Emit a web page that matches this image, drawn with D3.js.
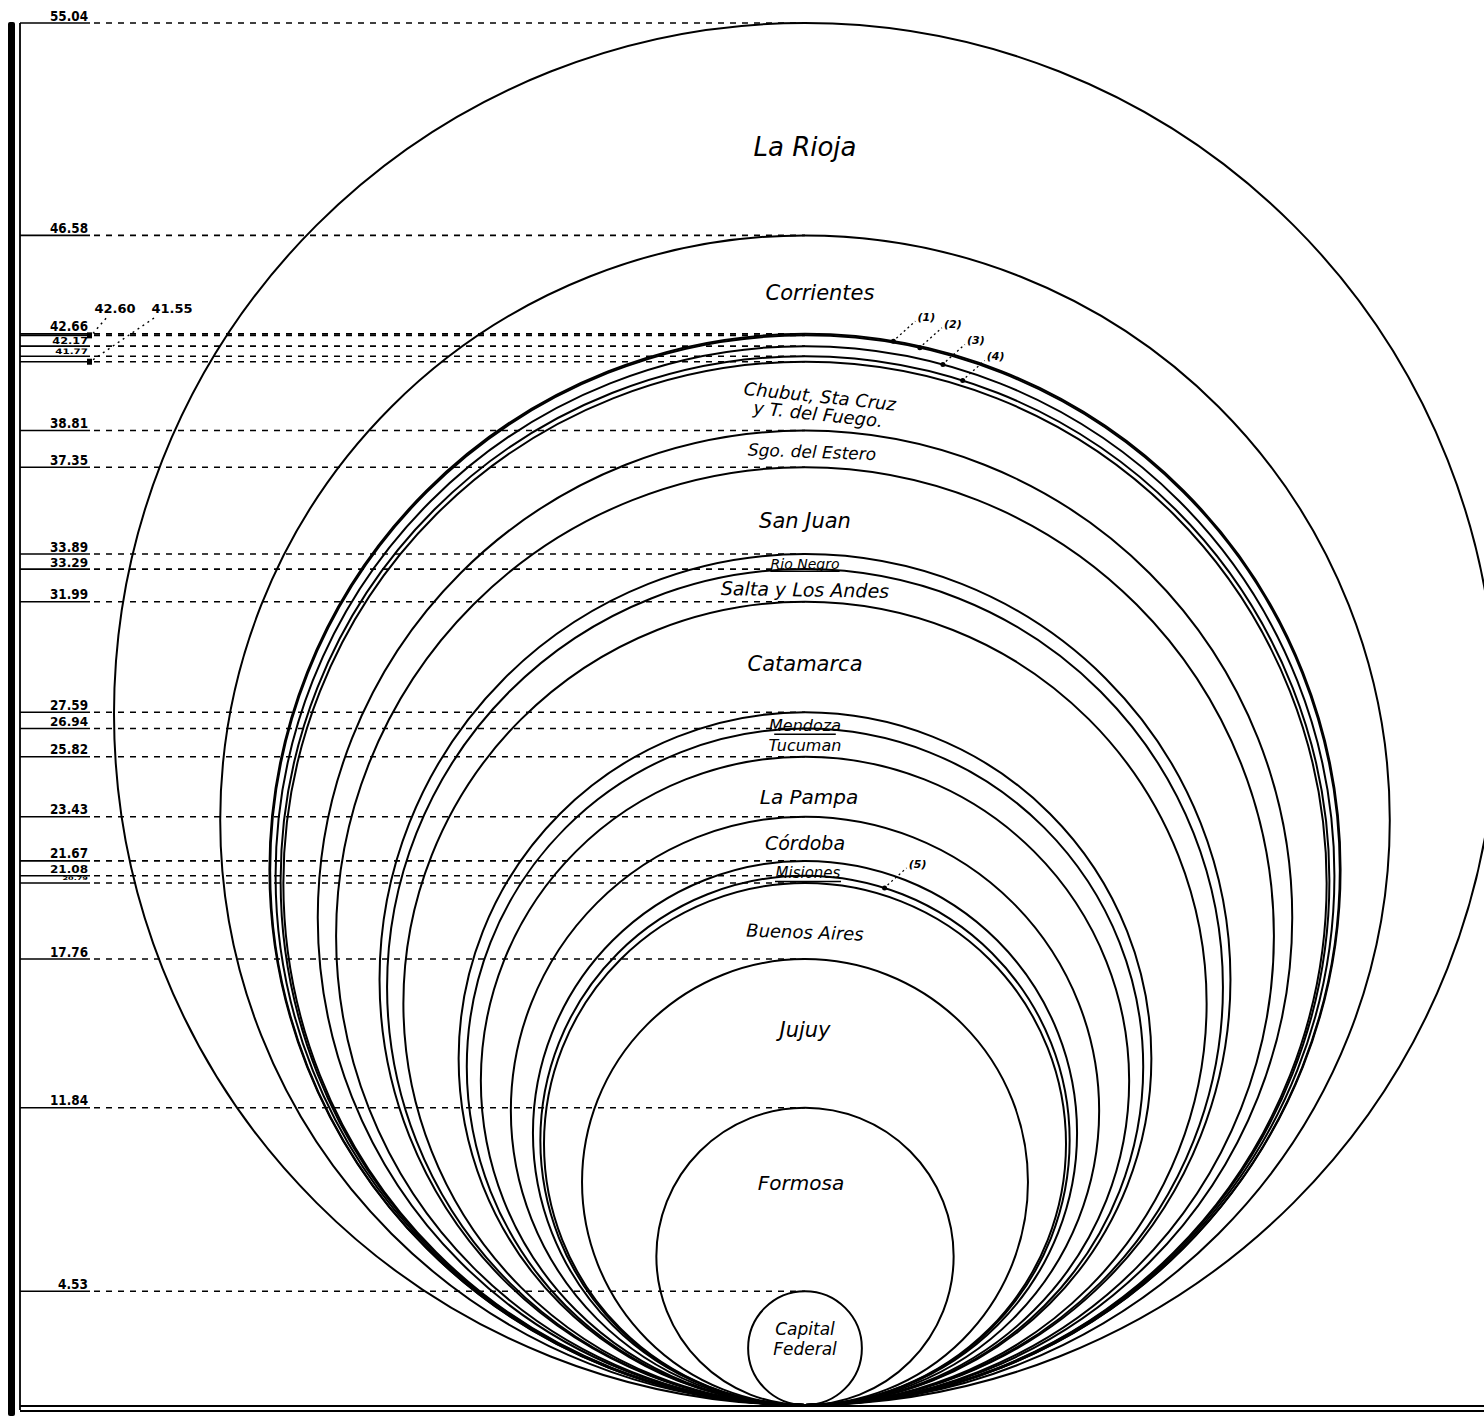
<!DOCTYPE html>
<html>
<head>
<meta charset="utf-8">
<script src="https://cdn.jsdelivr.net/npm/d3@7"></script>
<style>
  html, body { margin: 0; padding: 0; background: #fff; }
  svg { display: block; }
</style>
</head>
<body>
<svg id="chart" width="1484" height="1416"></svg>
<script>
// ---------------- DATA ----------------
// circle values (diameter = value on vertical scale), outer to inner
const circleValues = [55.04, 46.58, 42.66, 42.60, 42.17, 41.77, 41.55, 38.81, 37.35, 33.89, 33.29,
                      31.99, 27.59, 26.94, 25.82, 23.43, 21.67, 21.08, 20.79, 17.76, 11.84, 4.53];
// name written in the ring just inside each circle (null = unnamed, referenced by footnote)
const circleNames = ["La Rioja", "Corrientes", null, null, null, null,
                     "Chubut, Sta Cruz|y T. del Fuego.", "Sgo. del Estero", "San Juan", "Rio Negro",
                     "Salta y Los Andes", "Catamarca", "Mendoza", "Tucuman", "La Pampa", "Córdoba",
                     "Misiones", null, "Buenos Aires", "Jujuy", "Formosa", "Capital|Federal"];
// tick labels written on the left scale (null = annotated separately)
const tickLabels = ["55.04", "46.58", "42.66", null, "42.17", "41.77", null, "38.81", "37.35", "33.89", "33.29",
                    "31.99", "27.59", "26.94", "25.82", "23.43", "21.67", "21.08", "20.79", "17.76", "11.84", "4.53"];
// values annotated with leader lines near the scale
const sideNotes = ["42.60", "41.55"];
const sideVals = [42.60, 41.55];
// footnote marks on unnamed circles
const footnoteMarks = ["(1)", "(2)", "(3)", "(4)", "(5)"];
const footnoteValues = [42.66, 42.60, 42.17, 41.77, 21.08];

// ---------------- LAYOUT / STYLE ----------------
const W = 1484, H = 1416;
const base = 1405, topY = 23, cx = 805;
const y = d3.scaleLinear().domain([0, 55.04]).range([base, topY]);
const axisX = 20, solidEnd = 90;

const labelStyle = {
  "La Rioja": {size: 26, dy: 18},
  "Corrientes": {size: 21, dy: 8, dx: 15},
  "Chubut, Sta Cruz|y T. del Fuego.": {size: 18, dy: 9, dx: 14, rot: 6, lh: 18},
  "Sgo. del Estero": {size: 17, dy: 3, dx: 7, rot: 2},
  "San Juan": {size: 21, dy: 10},
  "Rio Negro": {size: 14, dy: 2, ul: true},
  "Salta y Los Andes": {size: 19, dy: 4, rot: 1},
  "Catamarca": {size: 21, dy: 7},
  "Mendoza": {size: 16, dy: 5, ul: true},
  "Tucuman": {size: 16, dy: 3},
  "La Pampa": {size: 20, dy: 10, dx: 4},
  "Córdoba": {size: 19, dy: 4},
  "Misiones": {size: 15, dy: 5, dx: 3, ul: true},
  "Buenos Aires": {size: 18, dy: 11, rot: 2},
  "Jujuy": {size: 21, dy: -3},
  "Formosa": {size: 20, dy: -16, dx: -4},
  "Capital|Federal": {size: 17, dy: -9, lh: 20}
};
const fnAngles = [9.5, 12.4, 15.1, 17.5, 17.5];

const svg = d3.select("#chart");
svg.append("rect").attr("width", W).attr("height", H).attr("fill", "#fff");

// frame
svg.append("rect").attr("x", 8).attr("y", topY - 1).attr("width", 7).attr("height", H - topY + 1)
  .attr("rx", 2).attr("fill", "#000");
svg.append("line").attr("x1", axisX).attr("x2", axisX).attr("y1", topY).attr("y2", base + 5)
  .attr("stroke", "#000").attr("stroke-width", 1.8);
svg.append("line").attr("x1", axisX).attr("x2", W).attr("y1", base + 1).attr("y2", base + 1)
  .attr("stroke", "#000").attr("stroke-width", 1.8);
svg.append("line").attr("x1", axisX).attr("x2", W).attr("y1", base + 6).attr("y2", base + 6)
  .attr("stroke", "#000").attr("stroke-width", 1.8);

// scale lines: solid part + dashed leader to the circle top
const ticks = svg.append("g");
let lastLabelY = -Infinity, lastFs = 13.5;
circleValues.forEach((v, i) => {
  const yy = y(v);
  ticks.append("line").attr("x1", axisX).attr("x2", solidEnd).attr("y1", yy).attr("y2", yy)
    .attr("stroke", "#000").attr("stroke-width", 1.6);
  ticks.append("line").attr("x1", solidEnd + 4).attr("x2", cx).attr("y1", yy).attr("y2", yy)
    .attr("stroke", "#000").attr("stroke-width", 1.6).attr("stroke-dasharray", "6,6");
  if (tickLabels[i]) {
    const gap = yy - lastLabelY;
    const fs = Math.max(5, Math.min(13.5, (gap - 0.26 * lastFs - 0.6) / 0.95));
    const len = tickLabels[i].length > 4 ? 38 : 30;
    ticks.append("text").attr("x", solidEnd - 2).attr("y", yy - 2.5)
      .attr("text-anchor", "end")
      .attr("font-family", "DejaVu Sans, sans-serif").attr("font-size", fs)
      .attr("font-weight", "bold").attr("fill", "#000")
      .attr("textLength", len * Math.min(1, fs / 13.5 + 0.3))
      .attr("lengthAdjust", "spacingAndGlyphs")
      .text(tickLabels[i]);
    lastLabelY = yy; lastFs = fs;
  }
});

// side notes 42.60 and 41.55
const sideEnds = [[108, 316], [154, 318]];
const sideText = [[115, 313], [172, 313]];
sideVals.forEach((v, i) => {
  const yy = y(v);
  svg.append("rect").attr("x", solidEnd - 3).attr("y", yy - 3).attr("width", 5).attr("height", 6).attr("fill", "#000");
  svg.append("line").attr("x1", solidEnd + 3).attr("y1", yy - 2)
    .attr("x2", sideEnds[i][0]).attr("y2", sideEnds[i][1])
    .attr("stroke", "#000").attr("stroke-width", 1.4).attr("stroke-dasharray", "2,4");
  svg.append("text").attr("x", sideText[i][0]).attr("y", sideText[i][1])
    .attr("text-anchor", "middle").attr("font-family", "DejaVu Sans, sans-serif")
    .attr("font-size", 13).attr("font-weight", "bold").text(sideNotes[i]);
});

// circles
const circles = svg.append("g");
circleValues.forEach(v => {
  const r = (y(0) - y(v)) / 2;
  circles.append("circle").attr("cx", cx).attr("cy", y(v / 2)).attr("r", r)
    .attr("fill", "none").attr("stroke", "#000").attr("stroke-width", 2);
});

// ring names
const names = svg.append("g").attr("font-family", "DejaVu Sans, sans-serif")
  .attr("font-style", "italic").attr("fill", "#000");
circleNames.forEach((nm, i) => {
  if (!nm) return;
  const outer = circleValues[i];
  const inner = i + 1 < circleValues.length ? circleValues[i + 1] : 0;
  const st = labelStyle[nm] || {size: 18};
  const ly = y((outer + inner) / 2) + (st.dy || 0);
  const lx = cx + (st.dx || 0);
  const lines = nm.split("|");
  const lh = st.lh || st.size;
  const g = names.append("g").attr("transform", `translate(${lx},${ly}) rotate(${st.rot || 0})`);
  lines.forEach((ln, k) => {
    g.append("text").attr("x", 0).attr("y", (k - (lines.length - 1) / 2) * lh)
      .attr("text-anchor", "middle").attr("dominant-baseline", "central")
      .attr("font-size", st.size).text(ln);
    if (st.ul) {
      const w = ln.length * st.size * 0.55;
      g.append("line").attr("x1", -w / 2).attr("x2", w / 2)
        .attr("y1", st.size * 0.55).attr("y2", st.size * 0.55)
        .attr("stroke", "#000").attr("stroke-width", 1.6);
    }
  });
});

// footnote marks
footnoteValues.forEach((v, i) => {
  const r = (y(0) - y(v)) / 2, cy = y(v / 2);
  const a = fnAngles[i] * Math.PI / 180;
  const px = cx + r * Math.sin(a), py = cy - r * Math.cos(a);
  svg.append("circle").attr("cx", px).attr("cy", py).attr("r", 2.5).attr("fill", "#000");
  svg.append("line").attr("x1", px + 3).attr("y1", py - 3).attr("x2", px + 22).attr("y2", py - 20)
    .attr("stroke", "#000").attr("stroke-width", 1.3).attr("stroke-dasharray", "2,3");
  svg.append("text").attr("x", px + 33).attr("y", py - 20)
    .attr("text-anchor", "middle").attr("font-family", "DejaVu Sans, sans-serif")
    .attr("font-style", "italic").attr("font-size", 11).attr("font-weight", "bold")
    .text(footnoteMarks[i]);
});
</script>
</body>
</html>
